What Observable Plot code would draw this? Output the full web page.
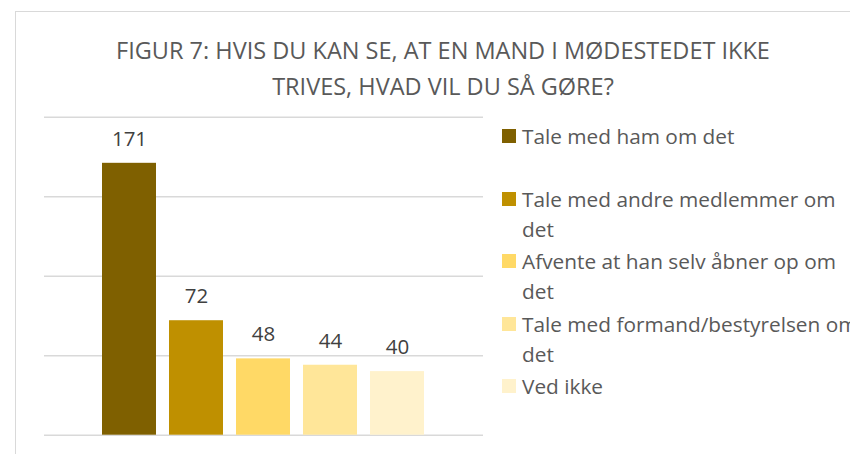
<!DOCTYPE html>
<html>
<head>
<meta charset="utf-8">
<script src="https://cdn.jsdelivr.net/npm/d3@7"></script>
<script src="https://cdn.jsdelivr.net/npm/@observablehq/plot@0.6"></script>
<style>
  html, body { margin: 0; padding: 0; background: #fff; overflow: hidden; width: 850px; height: 454px; }
  #wrap { position: relative; width: 850px; height: 454px; overflow: hidden; font-family: "Open Sans", sans-serif; }
  #border { position: absolute; left: 15px; top: 11px; width: 900px; height: 500px; border: 1.5px solid #d9d9d9; box-sizing: border-box; }
  .t { position: absolute; white-space: nowrap; color: #595959; }
  .title { font-size: 23.5px; font-weight: 400; left: 0; width: 886px; text-align: center; line-height: 36px; }
  .leg { font-size: 20.8px; line-height: 30px; left: 522px; }
  .sw { position: absolute; left: 502px; width: 14px; height: 14px; }
  #chart { position: absolute; left: 0; top: 0; }
</style>
</head>
<body>
<div id="wrap">
  <div id="border"></div>
  <div id="chart"></div>
</div>
<script>
const categories = [
  "Tale med ham om det",
  "Tale med andre medlemmer om det",
  "Afvente at han selv åbner op om det",
  "Tale med formand/bestyrelsen om det",
  "Ved ikke"
];
const values = [171, 72, 48, 44, 40];
const colors = ["#7f6000", "#bf9000", "#ffd966", "#ffe699", "#fff2cc"];
const gridTicks = [0, 50, 100, 150, 200];
const titleLines = ["FIGUR 7: HVIS DU KAN SE, AT EN MAND I MØDESTEDET IKKE", "TRIVES, HVAD VIL DU SÅ GØRE?"];
const legendLines = [
  ["Tale med ham om det"],
  ["Tale med andre medlemmer om", "det"],
  ["Afvente at han selv åbner op om", "det"],
  ["Tale med formand/bestyrelsen om", "det"],
  ["Ved ikke"]
];

const data = categories.map((c, i) => ({category: c, value: values[i]}));

const plot = Plot.plot({
  width: 850,
  height: 454,
  marginLeft: 44,
  marginRight: 367,
  marginTop: 116.7,
  marginBottom: 19.3,
  x: {domain: categories, paddingInner: 0.194, paddingOuter: 0.86, axis: null},
  y: {domain: [0, 200], axis: null},
  color: {domain: categories, range: colors},
  style: {background: "transparent", fontFamily: "Open Sans, sans-serif"},
  marks: [
    Plot.ruleY(gridTicks, {stroke: "#d9d9d9", strokeWidth: 1.5}),
    Plot.barY(data, {x: "category", y: "value", fill: "category"}),
    Plot.text(data, {x: "category", y: "value", text: d => String(d.value), dy: -24, fontSize: 20.5, fill: "#404040"})
  ]
});
document.getElementById("chart").appendChild(plot);

const wrap = document.getElementById("wrap");
const titleCenters = [50, 86];
titleLines.forEach((line, i) => {
  const d = document.createElement("div");
  d.className = "t title";
  d.style.top = (titleCenters[i] - 18) + "px";
  d.textContent = line;
  wrap.appendChild(d);
});
const legCenters = [[136], [199, 229], [261, 291], [324, 354], [386]];
legendLines.forEach((lines, i) => {
  const sw = document.createElement("div");
  sw.className = "sw";
  sw.style.background = colors[i];
  sw.style.top = (legCenters[i][0] - 7) + "px";
  wrap.appendChild(sw);
  lines.forEach((line, j) => {
    const d = document.createElement("div");
    d.className = "t leg";
    d.style.top = (legCenters[i][j] - 15) + "px";
    d.textContent = line;
    wrap.appendChild(d);
  });
});
</script>
</body>
</html>
